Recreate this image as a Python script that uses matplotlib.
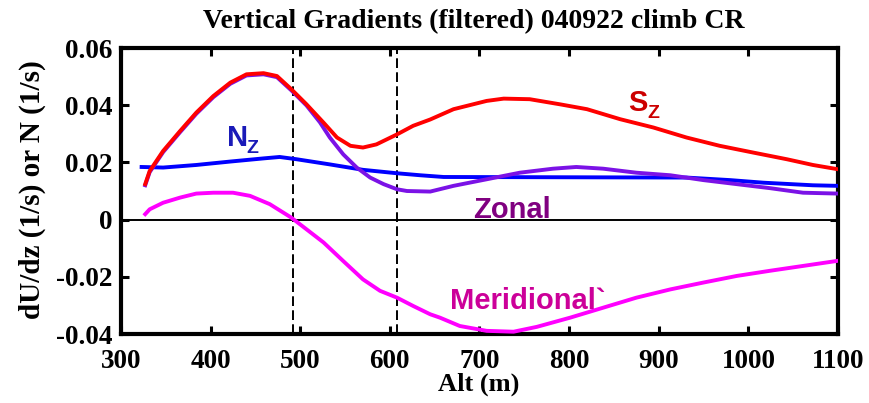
import matplotlib
matplotlib.use("Agg")
import matplotlib.pyplot as plt

# Altitude (m) and filtered vertical gradients (1/s)
alt_sz = [327, 332, 347, 366, 384, 403, 422, 440, 459, 474, 490, 507, 526, 541, 556,
          570, 585, 608, 626, 645, 671, 708, 727, 756, 790, 820, 857, 894, 931, 968,
          1006, 1043, 1072, 1100]
sz = [0.0124, 0.0170, 0.0240, 0.0310, 0.0374, 0.0432, 0.0479, 0.0508, 0.0512, 0.0502,
      0.0456, 0.0403, 0.0339, 0.0287, 0.0258, 0.0252, 0.0263, 0.0298, 0.0328, 0.0350,
      0.0386, 0.0415, 0.0423, 0.0421, 0.0403, 0.0386, 0.0351, 0.0322, 0.0287, 0.0258,
      0.0234, 0.0211, 0.0191, 0.0176]

alt_zonal = [327, 332, 347, 366, 384, 403, 422, 440, 459, 474, 490, 507, 522, 533, 548,
             563, 578, 593, 608, 619, 645, 671, 708, 745, 782, 808, 838, 875, 913, 950,
             987, 1024, 1061, 1100]
zonal = [0.0120, 0.0166, 0.0236, 0.0306, 0.0370, 0.0428, 0.0475, 0.0504, 0.0508, 0.0498,
         0.0452, 0.0399, 0.0340, 0.0287, 0.0228, 0.0182, 0.0147, 0.0124, 0.0106, 0.0100,
         0.0098, 0.0118, 0.0141, 0.0164, 0.0178, 0.0184, 0.0178, 0.0164, 0.0155, 0.0138,
         0.0124, 0.0110, 0.0094, 0.0091]

alt_nz = [323, 347, 384, 422, 459, 477, 496, 533, 570, 608, 634, 660, 800, 931, 980,
          1017, 1072, 1100]
nz = [0.0184, 0.0182, 0.0191, 0.0203, 0.0214, 0.0219, 0.0211, 0.0193, 0.0174, 0.0162,
      0.0155, 0.0149, 0.0148, 0.0147, 0.0138, 0.0129, 0.0120, 0.0118]

alt_mer = [327, 332, 347, 366, 384, 403, 425, 444, 466, 490, 507, 526, 548, 570, 589,
           608, 626, 645, 656, 678, 708, 738, 764, 801, 838, 875, 913, 950, 987, 1024,
           1061, 1100]
meridional = [0.0019, 0.0036, 0.0059, 0.0077, 0.0091, 0.0094, 0.0094, 0.0083, 0.0054,
              0.0007, -0.0034, -0.0080, -0.0145, -0.0209, -0.0249, -0.0273, -0.0302,
              -0.0331, -0.0343, -0.0372, -0.0389, -0.0392, -0.0375, -0.0343, -0.0308,
              -0.0273, -0.0244, -0.0220, -0.0197, -0.0179, -0.0162, -0.0144]

# Altitudes of the two reference levels (dashed)
ref_alts = [492, 608]

xticks = [300, 400, 500, 600, 700, 800, 900, 1000, 1100]
yticks = [-0.04, -0.02, 0, 0.02, 0.04, 0.06]
ytick_labels = ["-0.04", "-0.02", "0", "0.02", "0.04", "0.06"]

serif = ["Liberation Serif", "DejaVu Serif"]
sans = ["Liberation Sans", "DejaVu Sans"]

W, H = 869, 403
fig = plt.figure(figsize=(W / 100, H / 100), dpi=100)
ax = fig.add_axes([121 / W, 1 - 334 / H, (838 - 121) / W, (334 - 48) / H])

ax.axhline(0, color="black", lw=1.4, zorder=1)
for a in ref_alts:
    ax.axvline(a, color="black", lw=1.4, ls=(0, (5, 2.2)), zorder=1)

lw = 2.8
ax.plot(alt_mer, meridional, color="#ff00ff", lw=lw, zorder=3)
ax.plot(alt_nz, nz, color="#0000ff", lw=lw, zorder=3)
ax.plot(alt_zonal, zonal, color="#7b12e6", lw=lw, zorder=3)
ax.plot(alt_sz, sz, color="#ff0000", lw=lw, zorder=4)

ax.set_xlim(300, 1100)
ax.set_ylim(-0.04, 0.06)
ax.set_xticks(xticks)
ax.set_xticklabels([str(t) for t in xticks])
ax.set_yticks(yticks)
ax.set_yticklabels(ytick_labels)

ax.tick_params(direction="in", length=6, width=2.2, top=True, right=True)
ax.tick_params(axis="x", pad=11)
ax.tick_params(axis="y", pad=6.3)
for lab in ax.get_xticklabels() + ax.get_yticklabels():
    lab.set_fontfamily(serif)
    lab.set_fontweight("bold")
    lab.set_fontsize(19.5)
for sp in ax.spines.values():
    sp.set_linewidth(3)

fig.text(479 / W, 1 - 384 / H, "Alt (m)", fontfamily=serif, fontweight="bold",
         fontsize=19, ha="center", va="center")
fig.text(32 / W, 1 - 190 / H, "dU/dz (1/s) or N (1/s)", fontfamily=serif,
         fontweight="bold", fontsize=21, rotation=90, ha="center", va="center")
fig.text(474 / W, 1 - 28 / H, "Vertical Gradients (filtered) 040922 climb CR",
         fontfamily=serif, fontweight="bold", fontsize=20, ha="center", va="baseline")


def label_with_sub(x, y, main, sub, color, dx, dy, size=21, sub_size=14):
    ax.text(x, y, main, color=color, fontfamily=sans, fontweight="bold",
            fontsize=size, ha="left", va="baseline", zorder=5)
    ax.annotate(sub, xy=(x, y), xytext=(dx, dy), textcoords="offset points",
                color=color, fontfamily=sans, fontweight="bold", fontsize=sub_size,
                ha="left", va="baseline", zorder=5)


label_with_sub(866, 0.0381, "S", "Z", "#cc0000", 13.7, -5)
label_with_sub(418, 0.0259, "N", "Z", "#1a1ab8", 14.4, -5.5)
ax.text(693, 0.0007, "Zonal", color="#800080", fontfamily=sans, fontweight="bold",
        fontsize=21, ha="left", va="baseline", zorder=5)
ax.text(667, -0.0311, "Meridional`", color="#cc0099", fontfamily=sans,
        fontweight="bold", fontsize=21, ha="left", va="baseline", zorder=5)

fig.savefig("out.png", dpi=100)
